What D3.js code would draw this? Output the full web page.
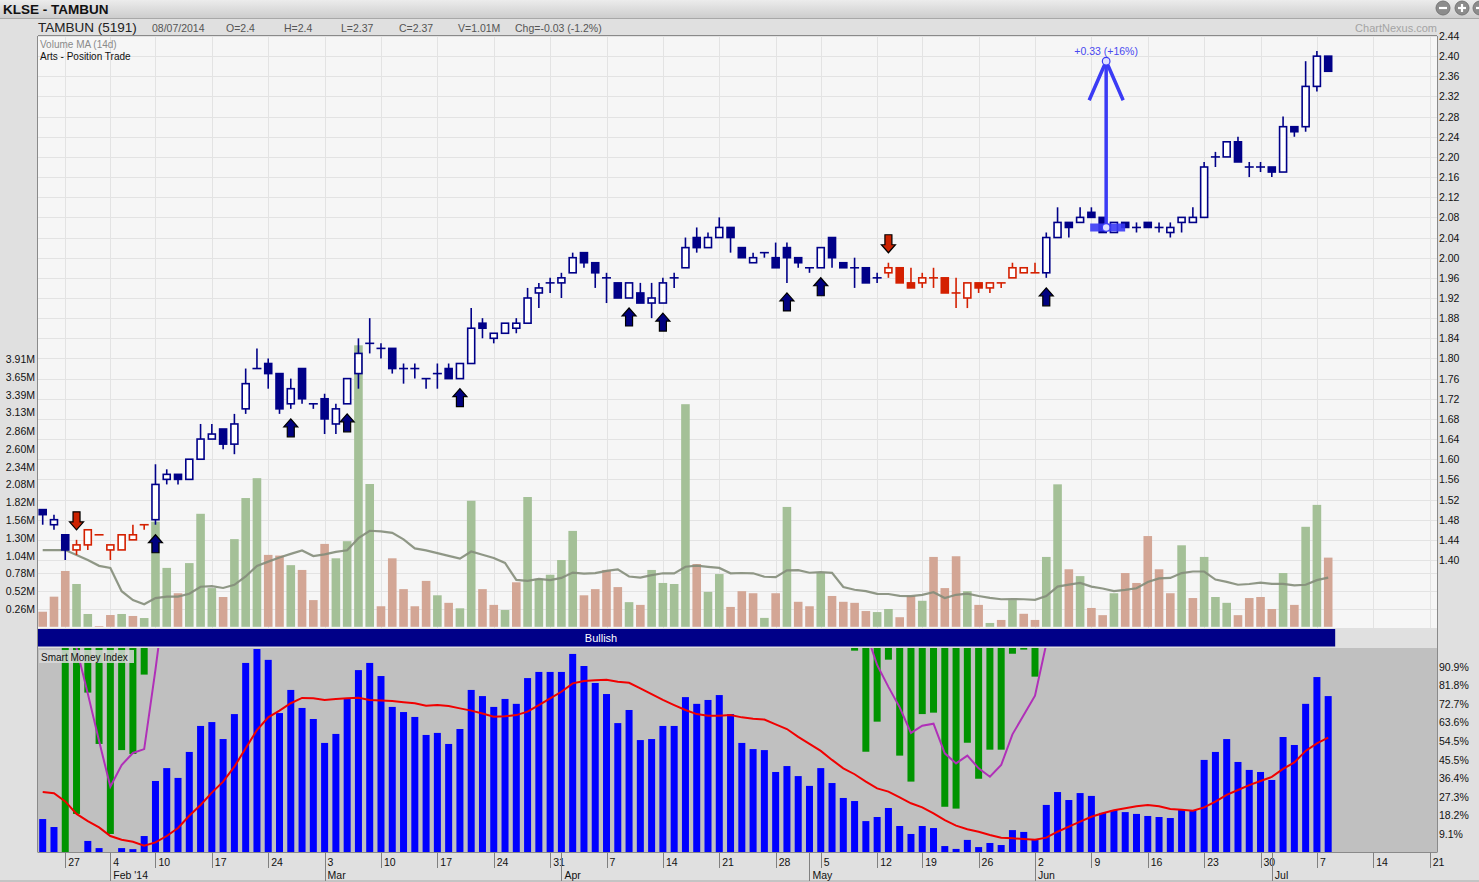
<!DOCTYPE html>
<html>
<head>
<meta charset="utf-8">
<script src="https://cdn.jsdelivr.net/npm/d3@7"></script>
<style>
  body { margin: 0; background: #e0e0e0; }
  svg { display: block; font-family: "Liberation Sans", Arial, sans-serif; }
</style>
</head>
<body>
<svg id="chart" width="1479" height="882"></svg>
<script>
// trading days shown on the chart (Bursa holidays left out)
const tradingDays = {
  "2014-01": [23, 24, 27, 28, 29, 30],
  "2014-02": [4, 5, 6, 7, 10, 11, 12, 13, 14, 17, 18, 19, 20, 21, 24, 25, 26, 27, 28],
  "2014-03": [3, 4, 5, 6, 7, 10, 11, 12, 13, 14, 17, 18, 19, 20, 21, 24, 25, 26, 27, 28, 31],
  "2014-04": [1, 2, 3, 4, 7, 8, 9, 10, 11, 14, 15, 16, 17, 18, 21, 22, 23, 24, 25, 28, 29, 30],
  "2014-05": [2, 5, 6, 7, 8, 9, 12, 14, 15, 16, 19, 20, 21, 22, 23, 26, 27, 28, 29, 30],
  "2014-06": [2, 3, 4, 5, 6, 9, 10, 11, 12, 13, 16, 17, 18, 19, 20, 23, 24, 25, 26, 27, 30],
  "2014-07": [1, 2, 3, 4, 7, 8]
};
// empty days to the right of the last candle
const futureDays = ["2014-07-09", "2014-07-10", "2014-07-11", "2014-07-14", "2014-07-15",
  "2014-07-16", "2014-07-17", "2014-07-18", "2014-07-21", "2014-07-22"];

const open = [1.50,1.47,1.45,1.42,1.43,1.45,1.42,1.42,1.44,1.47, 1.48,1.56,1.57,1.56,1.60,1.64,1.66,1.63,1.70,1.78,
  1.79,1.77,1.71,1.78,1.71,1.72,1.67,1.71,1.77,1.83, 1.82,1.82,1.78,1.78,1.76,1.77,1.78,1.76,1.79,1.87,
  1.84,1.85,1.86,1.87,1.93,1.95,1.95,1.97,2.01,1.99, 1.96,1.95,1.92,1.93,1.91,1.91,1.96,1.98,2.04,2.02,
  2.04,2.06,2.02,1.99,2.01,2.00,2.02,2.00,1.98,1.98, 2.04,1.99,1.98,1.98,1.96,1.97,1.98,1.95,1.95,1.96,
  1.96,1.93,1.92,1.95,1.94,1.95,1.96,1.97,1.97,1.97, 2.04,2.07,2.07,2.09,2.08,2.05,2.07,2.06,2.07,2.06,
  2.05,2.07,2.07,2.08,2.20,2.20,2.23,2.18,2.18,2.18, 2.17,2.26,2.26,2.34,2.40];
const high = [1.50,1.49,1.45,1.44,1.46,1.45,1.43,1.45,1.47,1.47, 1.59,1.58,1.57,1.60,1.67,1.67,1.66,1.69,1.78,1.82,
  1.80,1.77,1.76,1.78,1.71,1.73,1.71,1.76,1.84,1.88, 1.83,1.82,1.79,1.79,1.76,1.79,1.79,1.79,1.90,1.88,
  1.85,1.87,1.88,1.94,1.95,1.96,1.97,2.01,2.01,1.99, 1.97,1.95,1.95,1.95,1.95,1.96,1.97,2.04,2.06,2.05,
  2.08,2.06,2.02,2.01,2.01,2.03,2.03,2.00,1.98,2.02, 2.04,1.99,2.00,1.98,1.97,1.99,1.98,1.98,1.97,1.98,
  1.96,1.96,1.95,1.95,1.95,1.95,1.99,1.98,1.99,2.05, 2.10,2.07,2.10,2.10,2.08,2.07,2.07,2.07,2.07,2.07,
  2.07,2.08,2.10,2.19,2.21,2.23,2.24,2.19,2.19,2.18, 2.28,2.26,2.39,2.41,2.40];
const low = [1.47,1.46,1.40,1.41,1.42,1.45,1.40,1.42,1.44,1.46, 1.47,1.55,1.55,1.56,1.60,1.64,1.62,1.61,1.69,1.78,
  1.74,1.69,1.70,1.71,1.70,1.65,1.65,1.71,1.74,1.81, 1.80,1.77,1.75,1.76,1.74,1.74,1.76,1.76,1.79,1.84,
  1.83,1.85,1.85,1.87,1.90,1.93,1.92,1.97,1.98,1.94, 1.91,1.92,1.92,1.91,1.88,1.91,1.94,1.98,2.01,2.02,
  2.04,2.01,2.00,1.99,2.00,1.98,1.95,1.98,1.97,1.98, 1.98,1.98,1.94,1.95,1.95,1.96,1.95,1.94,1.94,1.94,
  1.93,1.90,1.90,1.93,1.93,1.94,1.96,1.97,1.97,1.96, 2.04,2.04,2.07,2.08,2.05,2.05,2.06,2.05,2.06,2.05,
  2.04,2.05,2.07,2.08,2.18,2.20,2.19,2.16,2.17,2.16, 2.17,2.24,2.25,2.33,2.37];
const close = [1.49,1.48,1.42,1.43,1.46,1.45,1.43,1.45,1.45,1.47, 1.55,1.57,1.56,1.60,1.64,1.65,1.63,1.67,1.75,1.78,
  1.77,1.70,1.74,1.72,1.71,1.68,1.70,1.76,1.81,1.83, 1.82,1.78,1.78,1.78,1.76,1.77,1.76,1.79,1.86,1.86,
  1.85,1.87,1.87,1.92,1.94,1.95,1.96,2.00,1.99,1.97, 1.96,1.92,1.95,1.91,1.92,1.95,1.96,2.02,2.02,2.04,
  2.06,2.04,2.00,2.00,2.01,1.98,2.00,1.99,1.98,2.02, 2.00,1.98,1.98,1.95,1.96,1.98,1.95,1.94,1.96,1.96,
  1.93,1.93,1.95,1.94,1.95,1.95,1.98,1.98,1.97,2.04, 2.07,2.06,2.08,2.08,2.05,2.07,2.06,2.06,2.06,2.06,
  2.06,2.08,2.08,2.18,2.20,2.23,2.19,2.18,2.18,2.17, 2.26,2.25,2.34,2.40,2.37];
// volume in millions
const volume = [0.22,0.44,0.815,0.625,0.187,0.01,0.172,0.187,0.158,0.128, 1.535,0.86,0.49,0.93,1.65,0.565,0.435,1.28,1.88,2.17,
  1.05,1.04,0.90,0.83,0.39,1.21,1.00,1.25,4.11,2.085, 0.30,1.00,0.55,0.30,0.67,0.46,0.35,0.27,1.84,0.55,
  0.32,0.245,0.65,1.895,0.70,0.76,0.975,1.40,0.46,0.55, 0.83,0.58,0.36,0.32,0.83,0.64,0.625,3.25,0.917,0.51,
  0.77,0.29,0.52,0.49,0.13,0.49,1.75,0.365,0.30,0.785, 0.45,0.365,0.35,0.23,0.215,0.26,0.14,0.45,0.38,1.02,
  0.565,1.03,0.52,0.32,0.056,0.10,0.39,0.19,0.10,1.02, 2.08,0.84,0.74,0.275,0.17,0.49,0.785,0.64,1.325,0.84,
  0.49,1.19,0.42,1.02,0.435,0.35,0.17,0.42,0.435,0.26, 0.785,0.32,1.46,1.78,1.01];
// 14 day volume MA for the first days (needs history before the window)
const volumeMaHead = [1.12,1.12,1.12,1.05,0.975,0.89,0.86,0.52,0.39,0.33,0.42,0.44,0.44];

// Smart Money Index, in %
const smiBlue = [16.4,12.5,0,0,5.7,2.2,0,2.2,1.7,8.1, 35.0,41.3,36.5,49.2,61.9,63.8,55.5,67.7,92.7,99.5,
  94.2,68.2,79.5,70.7,65.3,53.6,58.0,75.1,89.2,92.7, 86.3,71.2,68.7,66.3,57.5,58.5,53.1,60.4,79.5,76.5,
  71.2,75.1,72.7,85.3,88.3,88.3,88.3,97.1,91.2,82.9, 77.5,63.3,69.7,55.0,55.5,61.9,61.9,76.0,72.7,74.6,
  77.0,67.7,53.6,50.6,50.1,39.4,42.3,37.4,32.6,41.3, 34.0,26.7,25.2,15.4,17.4,21.8,13.0,9.1,13.0,12.0,
  3.2,1.8,6.2,2.7,4.7,3.7,11.0,10.1,6.6,23.3, 29.6,25.7,29.1,27.7,19.4,20.8,19.8,18.9,17.9,17.4,
  16.9,20.8,20.8,45.3,49.2,55.5,44.3,40.4,39.4,35.5, 56.5,52.6,72.7,85.8,76.5];
const smiAvg = [29.6,29.0,25.0,18.9,15.4,12.3,8.1,6.3,5.3,3.4, 5.0,8.1,12.0,18.0,23.3,29.3,34.7,42.0,51.0,59.9,
  66.1,69.4,73.0,75.6,75.4,74.6,75.1,75.4,75.7,74.6, 74.3,74.1,73.5,73.0,71.8,72.1,71.6,70.5,69.4,68.0,
  66.4,66.6,67.2,68.9,72.1,75.4,78.6,82.7,83.9,84.2, 84.5,83.5,83.0,80.3,77.4,74.6,72.1,69.7,67.7,66.9,
  66.9,67.2,66.1,65.4,65.0,62.7,60.4,56.6,53.1,49.7, 45.3,41.2,38.3,34.7,31.4,29.8,27.0,24.1,22.1,19.2,
  15.9,13.2,11.4,10.2,8.6,7.3,7.0,6.6,6.3,7.3, 10.2,12.7,15.1,17.5,19.2,20.7,21.7,22.6,23.3,22.6,
  21.3,21.0,20.5,22.1,24.9,28.2,30.6,33.0,35.0,37.0, 40.9,44.1,49.7,53.4,56.2];
// green bars hang from the top of the panel down to these levels
const smiGreenRuns = [
  { from: "2014-01-27", values: [0, 18.9, 78.2, 53.1, 9.1, 50.1, 48.2, 87.0] },
  { from: "2014-05-08", values: [98.7, 49.3, 64.0, 94.3, 47.4, 34.7, 67.7, 68.4, 22.4, 21.5,
    53.7, 36.1, 50.3, 50.3, 97.2, 99.2, 86.0] }
];
const smiTrailRuns = [
  { from: "2014-01-27", values: [115, 100, 77.7, 54.5, 32.2, 42.8, 48.7, 50.6, 89.4, 132] },
  { from: "2014-05-09", values: [108, 91.7, 81, 71, 58.5, 62, 63, 48.5, 43.6, 47.4, 41.2, 37.1,
    42.8, 57.8, 67.2, 76.7, 102, 130] }
];

const upSignals = ["2014-02-10", "2014-02-26", "2014-03-05", "2014-03-19", "2014-04-09",
  "2014-04-14", "2014-04-29", "2014-05-05", "2014-06-03"];
const downSignals = ["2014-01-28", "2014-05-14"];
const measure = { date: "2014-06-10", from: 2.06, to: 2.39 };

const priceTicks = [1.40,1.44,1.48,1.52,1.56,1.60,1.64,1.68,1.72,1.76,1.80,1.84,1.88,1.92,1.96,2.00,
  2.04,2.08,2.12,2.16,2.20,2.24,2.28,2.32,2.36,2.40,2.44];
const volumeTicks = [0.26,0.52,0.78,1.04,1.30,1.56,1.82,2.08,2.34,2.60,2.86,3.13,3.39,3.65,3.91];
const smiTicks = [9.1,18.2,27.3,36.4,45.5,54.5,63.6,72.7,81.8,90.9];
const weekTicks = ["2014-01-27","2014-02-04","2014-02-10","2014-02-17","2014-02-24","2014-03-03",
  "2014-03-10","2014-03-17","2014-03-24","2014-03-31","2014-04-07","2014-04-14","2014-04-21",
  "2014-04-28","2014-05-05","2014-05-12","2014-05-19","2014-05-26","2014-06-02","2014-06-09",
  "2014-06-16","2014-06-23","2014-06-30","2014-07-07","2014-07-14","2014-07-21"];
const monthTicks = ["2014-02-04","2014-03-03","2014-04-01","2014-05-02","2014-06-02","2014-07-01"];
const monthLabels = ["Feb '14","Mar","Apr","May","Jun","Jul"];

// ---------- build rows ----------
const dates = [];
Object.entries(tradingDays).forEach(([m, ds]) => ds.forEach(d => dates.push(m + "-" + String(d).padStart(2, "0"))));
const allDays = dates.concat(futureDays);
const idx = d => allDays.indexOf(d);

let sellMode = false;
const days = dates.map((d, i) => {
  if (downSignals.includes(d)) sellMode = true;
  if (upSignals.includes(d)) sellMode = false;
  const prev = i > 0 ? close[i - 1] : open[i];
  return {
    i, date: d, open: open[i], high: high[i], low: low[i], close: close[i], vol: volume[i],
    color: sellMode ? "#d42000" : "#000088",
    volUp: close[i] > prev
  };
});
const volumeMa = volume.map((v, i) => i < volumeMaHead.length ? volumeMaHead[i] : d3.mean(volume.slice(i - 13, i + 1)));

function runsToPoints(runs) {
  return runs.map(r => r.values.map((v, k) => ({ i: idx(r.from) + k, v })));
}

// ---------- layout ----------
const L = 38, R = 1437, T = 36, VB = 627, SMT = 648, SMB = 852.5;
const svg = d3.select("#chart");

const x = d3.scaleLinear().domain([-0.417, 123.65]).range([L, R]);
const yP = d3.scaleLinear().domain([1.40, 2.44]).range([560, T]);
const yV = d3.scaleLinear().domain([0, 3.91]).range([626.8, 359]);
const yS = d3.scaleLinear().domain([0, 100]).range([852.6, SMT]);

// header
const grad = svg.append("defs").append("linearGradient").attr("id", "hdr").attr("x1", 0).attr("y1", 0).attr("x2", 0).attr("y2", 1);
grad.append("stop").attr("offset", 0).attr("stop-color", "#ececec");
grad.append("stop").attr("offset", 1).attr("stop-color", "#cdcdcd");
svg.append("rect").attr("width", 1479).attr("height", 18).attr("fill", "url(#hdr)");
svg.append("line").attr("x1", 0).attr("x2", 1479).attr("y1", 18.5).attr("y2", 18.5).attr("stroke", "#a8a8a8");
svg.append("text").attr("x", 3).attr("y", 14).attr("font-size", 13.5).attr("font-weight", "bold").attr("fill", "#111").text("KLSE - TAMBUN");

const icons = svg.append("g");
[["1443", "minus"], ["1462", "plus"], ["1480", "x"]].forEach(([cx, kind]) => {
  const g = icons.append("g").attr("transform", `translate(${cx},8)`);
  g.append("circle").attr("r", 7).attr("fill", "#8c8c8c").attr("stroke", "#777");
  g.append("line").attr("x1", -4).attr("x2", 4).attr("stroke", "#fff").attr("stroke-width", 2.2);
  if (kind === "plus") g.append("line").attr("y1", -4).attr("y2", 4).attr("stroke", "#fff").attr("stroke-width", 2.2);
});

const last = days[days.length - 1], prevLast = days[days.length - 2];
const chg = last.close - prevLast.close;
svg.append("text").attr("x", 38).attr("y", 32).attr("font-size", 13.5).attr("fill", "#222").text("TAMBUN (5191)");
const info = [
  [152, "08/07/2014"], [226, "O=" + last.open], [284, "H=" + last.high], [341, "L=" + last.low],
  [399, "C=" + last.close], [458, "V=" + last.vol.toFixed(2) + "M"],
  [515, "Chg=" + chg.toFixed(2) + " (" + (chg / prevLast.close * 100).toFixed(1) + "%)"]
];
svg.append("g").selectAll("text").data(info).join("text")
  .attr("x", d => d[0]).attr("y", 32).attr("font-size", 10.5).attr("fill", "#555").text(d => d[1]);
svg.append("text").attr("x", R).attr("y", 32).attr("text-anchor", "end").attr("font-size", 11)
  .attr("fill", "#a4a4a4").text("ChartNexus.com");

// main panel
svg.append("rect").attr("x", L).attr("y", T).attr("width", R - L).attr("height", VB + 1 - T).attr("fill", "#f6f6f6");
const grid = svg.append("g").attr("stroke", "#e3e3e3").attr("stroke-width", 1);
grid.selectAll("line.p").data(priceTicks).join("line")
  .attr("x1", L).attr("x2", R).attr("y1", d => Math.round(yP(d)) + 0.5).attr("y2", d => Math.round(yP(d)) + 0.5);
grid.selectAll("line.v").data(volumeTicks.filter(v => yV(v) > 562)).join("line")
  .attr("x1", L).attr("x2", R).attr("y1", d => Math.round(yV(d)) + 0.5).attr("y2", d => Math.round(yV(d)) + 0.5);
grid.selectAll("line.w").data(weekTicks).join("line")
  .attr("x1", d => Math.round(x(idx(d))) + 0.5).attr("x2", d => Math.round(x(idx(d))) + 0.5)
  .attr("y1", T).attr("y2", VB + 1);

svg.append("text").attr("x", 40).attr("y", 48).attr("font-size", 10).attr("fill", "#8a8a8a").text("Volume MA (14d)");
svg.append("text").attr("x", 40).attr("y", 60).attr("font-size", 10).attr("fill", "#111").text("Arts - Position Trade");

// volume
svg.append("g").selectAll("rect").data(days).join("rect")
  .attr("x", d => x(d.i) - 4.3).attr("width", 8.6)
  .attr("y", d => yV(d.vol)).attr("height", d => yV(0) - yV(d.vol))
  .attr("fill", d => d.volUp ? "#a4c097" : "#d3a695");
svg.append("path").datum(volumeMa)
  .attr("d", d3.line().x((v, i) => x(i)).y(v => yV(v)))
  .attr("fill", "none").attr("stroke", "#848d7a").attr("stroke-width", 2.2).attr("stroke-opacity", 0.9);

// candles
const cg = svg.append("g");
const bw = 7;
cg.selectAll("line.wick").data(days).join("line")
  .attr("x1", d => x(d.i)).attr("x2", d => x(d.i))
  .attr("y1", d => yP(d.high)).attr("y2", d => yP(d.low))
  .attr("stroke", d => d.color).attr("stroke-width", 1.6);
cg.selectAll("rect").data(days.filter(d => d.open !== d.close)).join("rect")
  .attr("x", d => x(d.i) - bw / 2).attr("width", bw)
  .attr("y", d => yP(Math.max(d.open, d.close)))
  .attr("height", d => Math.abs(yP(d.open) - yP(d.close)))
  .attr("fill", d => d.close > d.open ? "#fff" : d.color)
  .attr("stroke", d => d.color).attr("stroke-width", 1.6);
cg.selectAll("line.doji").data(days.filter(d => d.open === d.close)).join("line")
  .attr("x1", d => x(d.i) - 4.5).attr("x2", d => x(d.i) + 4.5)
  .attr("y1", d => yP(d.close)).attr("y2", d => yP(d.close))
  .attr("stroke", d => d.color).attr("stroke-width", 1.6);

// signal arrows
const arrowUp = "M0,0 L7,8 L3.5,8 L3.5,18 L-3.5,18 L-3.5,8 L-7,8 Z";
const arrowDown = "M0,0 L7,-8 L3.5,-8 L3.5,-18 L-3.5,-18 L-3.5,-8 L-7,-8 Z";
svg.append("g").selectAll("path").data(upSignals.map(d => days[idx(d)])).join("path")
  .attr("transform", d => `translate(${x(d.i)},${yP(d.low) + 10})`)
  .attr("d", arrowUp).attr("fill", "#000080").attr("stroke", "#000").attr("stroke-width", 1.2);
svg.append("g").selectAll("path").data(downSignals.map(d => days[idx(d)])).join("path")
  .attr("transform", d => `translate(${x(d.i)},${yP(d.high) - 10})`)
  .attr("d", arrowDown).attr("fill", "#cc2200").attr("stroke", "#000").attr("stroke-width", 1.2);

// measurement tool
const mx = x(idx(measure.date)) + 3.5, my0 = yP(measure.from), my1 = yP(measure.to);
const mg = svg.append("g").attr("stroke", "#3b3bf5").attr("fill", "none");
mg.append("line").attr("x1", mx - 16).attr("x2", mx + 19).attr("y1", my0).attr("y2", my0).attr("stroke-width", 8).attr("stroke-opacity", 0.9);
mg.append("line").attr("x1", mx).attr("x2", mx).attr("y1", my0).attr("y2", my1).attr("stroke-width", 3.5);
mg.append("path").attr("d", `M${mx - 17},${my1 + 39} L${mx},${my1} L${mx + 17},${my1 + 39}`).attr("stroke-width", 3.5);
mg.selectAll("circle").data([my0, my1]).join("circle")
  .attr("cx", mx).attr("cy", d => d).attr("r", 3.8).attr("fill", "#dfe0ff").attr("stroke-width", 1.2);
const diff = measure.to - measure.from;
svg.append("text").attr("x", mx).attr("y", my1 - 6).attr("text-anchor", "middle").attr("font-size", 10.5)
  .attr("fill", "#4848f0").text(`+${diff.toFixed(2)} (+${Math.round(diff / measure.from * 100)}%)`);

// bullish band
svg.append("rect").attr("x", L).attr("y", 629).attr("width", x(days.length - 1) + 7 - L).attr("height", 17.5).attr("fill", "#000088");
svg.append("text").attr("x", 601).attr("y", 641.5).attr("text-anchor", "middle").attr("font-size", 11).attr("fill", "#fff").text("Bullish");

// smart money panel
svg.append("rect").attr("x", L).attr("y", SMT).attr("width", R - L).attr("height", SMB - SMT).attr("fill", "#c0c0c0");
svg.append("clipPath").attr("id", "smiClip").append("rect").attr("x", L).attr("y", SMT).attr("width", R - L).attr("height", SMB - SMT);
const sg = svg.append("g").attr("clip-path", "url(#smiClip)");
sg.selectAll("rect.b").data(days).join("rect")
  .attr("x", d => x(d.i) - 3.5).attr("width", 7)
  .attr("y", d => yS(smiBlue[d.i])).attr("height", d => yS(0) - yS(smiBlue[d.i]))
  .attr("fill", "#0000ff");
const greens = runsToPoints(smiGreenRuns).flat();
sg.selectAll("rect.g").data(greens).join("rect")
  .attr("x", d => x(d.i) - 3.5).attr("width", 7)
  .attr("y", yS(100)).attr("height", d => yS(d.v) - yS(100))
  .attr("fill", "#009400");
sg.append("path").datum(smiAvg)
  .attr("d", d3.line().x((v, i) => x(i)).y(v => yS(v)))
  .attr("fill", "none").attr("stroke", "#f00000").attr("stroke-width", 2);
sg.selectAll("path.trail").data(runsToPoints(smiTrailRuns)).join("path")
  .attr("d", d3.line().x(d => x(d.i)).y(d => yS(d.v)))
  .attr("fill", "none").attr("stroke", "#b030b8").attr("stroke-width", 2);
svg.append("rect").attr("x", 39).attr("y", 650).attr("width", 95).attr("height", 13).attr("fill", "#d8d8d8").attr("opacity", 0.85);
svg.append("text").attr("x", 41).attr("y", 660.5).attr("font-size", 10).attr("fill", "#111").text("Smart Money Index");

// borders
const bd = svg.append("g").attr("stroke", "#8a8a8a").attr("fill", "none");
bd.append("line").attr("x1", L - 0.5).attr("x2", L - 0.5).attr("y1", T).attr("y2", SMB);
bd.append("line").attr("x1", R + 0.5).attr("x2", R + 0.5).attr("y1", T).attr("y2", SMB);
bd.append("line").attr("x1", L).attr("x2", R).attr("y1", T - 0.5).attr("y2", T - 0.5);
bd.append("line").attr("x1", L).attr("x2", R).attr("y1", SMB).attr("y2", SMB);
svg.append("line").attr("x1", 0).attr("x2", 1479).attr("y1", 881).attr("y2", 881).attr("stroke", "#a8a8a8");

// right price axis
svg.append("g").selectAll("text").data(priceTicks).join("text")
  .attr("x", 1439).attr("y", d => yP(d) + 4).attr("font-size", 10.5).attr("fill", "#111").text(d => d.toFixed(2));
// left volume axis
svg.append("g").selectAll("text").data(volumeTicks).join("text")
  .attr("x", 35).attr("y", d => yV(d) + 4).attr("text-anchor", "end").attr("font-size", 10.5).attr("fill", "#111")
  .text(d => d.toFixed(2) + "M");
// smi axis
svg.append("g").selectAll("text").data(smiTicks).join("text")
  .attr("x", 1439).attr("y", d => yS(d) + 4).attr("font-size", 10.5).attr("fill", "#111").text(d => d + "%");

// date axis
const xa = svg.append("g");
xa.selectAll("line.w").data(weekTicks).join("line")
  .attr("x1", d => Math.round(x(idx(d))) + 0.5).attr("x2", d => Math.round(x(idx(d))) + 0.5)
  .attr("y1", SMB).attr("y2", 868).attr("stroke", "#808080");
xa.selectAll("text.w").data(weekTicks).join("text")
  .attr("x", d => x(idx(d)) + 3).attr("y", 866).attr("font-size", 10.5).attr("fill", "#111")
  .text(d => +d.slice(8));
xa.selectAll("line.m").data(monthTicks).join("line")
  .attr("x1", d => Math.round(x(idx(d))) + 0.5).attr("x2", d => Math.round(x(idx(d))) + 0.5)
  .attr("y1", SMB).attr("y2", 881).attr("stroke", "#808080");
xa.selectAll("text.m").data(monthTicks).join("text")
  .attr("x", d => x(idx(d)) + 3).attr("y", 878.5).attr("font-size", 10.5).attr("fill", "#111")
  .text((d, k) => monthLabels[k]);
</script>
</body>
</html>
